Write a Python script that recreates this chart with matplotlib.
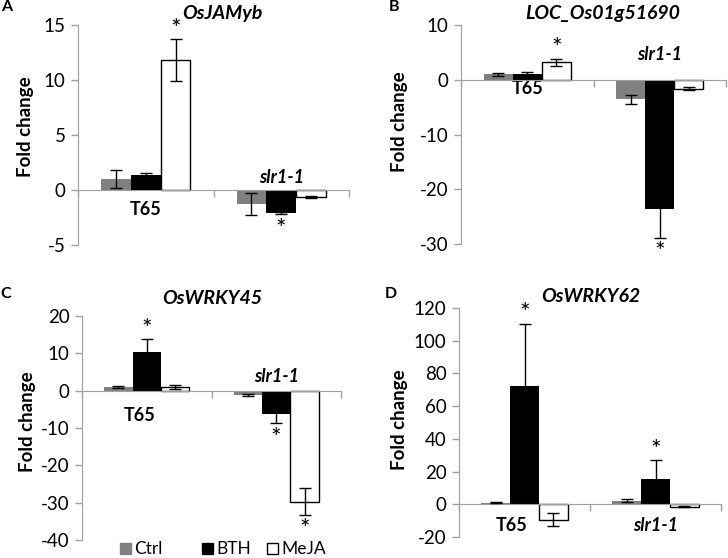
import matplotlib
matplotlib.use("Agg")
import matplotlib.pyplot as plt
from matplotlib.patches import Rectangle
import numpy as np

plt.rcParams['font.family'] = ['Lato', 'DejaVu Sans']

treatments = ["Ctrl", "BTH", "MeJA"]
genotypes = ["T65", "slr1-1"]
colors = ["#808080", "#000000", "#ffffff"]

# Panel A: OsJAMyb
a_vals = {"T65": [1.0, 1.4, 11.8], "slr1-1": [-1.3, -2.1, -0.6]}
a_err = {"T65": [0.8, 0.15, 1.9], "slr1-1": [1.0, 0.1, 0.1]}
# Panel B: LOC_Os01g51690
b_vals = {"T65": [1.0, 1.1, 3.2], "slr1-1": [-3.6, -23.6, -1.6]}
b_err = {"T65": [0.3, 0.3, 0.6], "slr1-1": [0.8, 5.3, 0.3]}
# Panel C: OsWRKY45
c_vals = {"T65": [1.0, 10.4, 1.0], "slr1-1": [-1.2, -6.3, -29.7]}
c_err = {"T65": [0.2, 3.4, 0.5], "slr1-1": [0.2, 2.4, 3.5]}
# Panel D: OsWRKY62
d_vals = {"T65": [1.0, 72.5, -9.4], "slr1-1": [2.3, 15.7, -1.5]}
d_err = {"T65": [0.5, 38.0, 3.8], "slr1-1": [1.0, 11.2, 0.3]}

# significance stars: (genotype, treatment index, side)
a_stars = [("T65", 2, "up"), ("slr1-1", 1, "down")]
b_stars = [("T65", 2, "up"), ("slr1-1", 1, "down")]
c_stars = [("T65", 1, "up"), ("slr1-1", 1, "down"), ("slr1-1", 2, "down")]
d_stars = [("T65", 1, "up"), ("slr1-1", 1, "up")]

W, H = 728, 558
fig = plt.figure(figsize=(W / 100, H / 100), dpi=100)

def rect(l, r, t, b):
    return [l / W, 1 - b / H, (r - l) / W, (b - t) / H]

panels = [
    dict(rect=rect(78, 349, 25, 245), ylim=(-5, 15), yt=[-5, 0, 5, 10, 15],
         vals=a_vals, err=a_err, stars=a_stars, title="OsJAMyb", tpos=(222, 13),
         letter="A", lpos=(7, 7), ylab=(25, 127),
         labs={"T65": ("below", 14, 0), "slr1-1": ("above", 9, 0)}),
    dict(rect=rect(461, 726, 25, 244), ylim=(-30, 10), yt=[-30, -20, -10, 0, 10],
         vals=b_vals, err=b_err, stars=b_stars, title="LOC_Os01g51690", tpos=(603, 13),
         letter="B", lpos=(394, 7), ylab=(399, 122),
         labs={"T65": ("below", 6, 0), "slr1-1": ("above", 18, 0)}),
    dict(rect=rect(82, 341, 316, 540), ylim=(-40, 20), yt=[-40, -30, -20, -10, 0, 10, 20],
         vals=c_vals, err=c_err, stars=c_stars, title="OsWRKY45", tpos=(212, 298),
         letter="C", lpos=(6, 294), ylab=(28, 422),
         labs={"T65": ("below", 18, -5), "slr1-1": ("above", 10, 0)}),
    dict(rect=rect(459, 721, 308, 537), ylim=(-20, 120), yt=[-20, 0, 20, 40, 60, 80, 100, 120],
         vals=d_vals, err=d_err, stars=d_stars, title="OsWRKY62", tpos=(591, 297),
         letter="D", lpos=(391, 294), ylab=(399, 420),
         labs={"T65": ("below", 15, -9), "slr1-1": ("below", 15, 0)}),
]

bw = 0.22
offsets = [-bw, 0, bw]
axis_gray = "#a0a0a0"

for p in panels:
    ax = fig.add_axes(p["rect"])
    for gi, g in enumerate(genotypes):
        for ti in range(3):
            x = gi + offsets[ti]
            v = p["vals"][g][ti]
            e = p["err"][g][ti]
            ax.bar(x, v, width=bw, color=colors[ti],
                   edgecolor="black" if ti == 2 else colors[ti],
                   linewidth=1.0 if ti == 2 else 0, zorder=2)
            ax.errorbar(x, v, yerr=e, fmt="none", ecolor="black", elinewidth=1.0,
                        capsize=4.5, capthick=1.0, zorder=3)
    for g, ti, side in p["stars"]:
        gi = genotypes.index(g)
        x = gi + offsets[ti]
        v = p["vals"][g][ti]
        e = p["err"][g][ti]
        if side == "up":
            ax.annotate("*", (x, v + e), xytext=(0, -1), textcoords="offset points",
                        ha="center", va="bottom", fontsize=18, zorder=4)
        else:
            ax.annotate("*", (x, v - e), xytext=(0, -19), textcoords="offset points",
                        ha="center", va="bottom", fontsize=18, zorder=4)
    for gi, g in enumerate(genotypes):
        side, off, dx = p["labs"][g]
        style = "italic" if g == "slr1-1" else "normal"
        dy = -off if side == "below" else off
        ax.annotate(g, (gi, 0), xytext=(dx, dy), textcoords="offset points",
                    ha="center", va="center", fontsize=13, fontweight="bold",
                    fontstyle=style, zorder=1)
    ax.set_xlim(-0.5, 1.5)
    ax.set_ylim(*p["ylim"])
    ax.set_yticks(p["yt"])
    ax.set_yticklabels([str(t) for t in p["yt"]])
    ax.set_xticks([-0.5, 0.5, 1.5])
    ax.set_xticklabels([])
    for s in ["top", "right"]:
        ax.spines[s].set_visible(False)
    ax.spines["bottom"].set_position(("data", 0))
    ax.spines["bottom"].set_color(axis_gray)
    ax.spines["left"].set_color(axis_gray)
    ax.spines["bottom"].set_zorder(2.5)
    ax.tick_params(axis="y", length=5, width=1, color=axis_gray, labelsize=13.5,
                   pad=4, labelcolor="black")
    ax.tick_params(axis="x", length=5, width=1, color=axis_gray, direction="out")
    ax.patch.set_alpha(0)
    fig.text(p["tpos"][0] / W, 1 - p["tpos"][1] / H, p["title"], ha="center", va="center",
             fontsize=14, fontweight="bold", fontstyle="italic")
    fig.text(p["lpos"][0] / W, 1 - p["lpos"][1] / H, p["letter"], ha="center", va="center",
             fontsize=11.5, fontweight="bold")
    fig.text(p["ylab"][0] / W, 1 - p["ylab"][1] / H, "Fold change", ha="center", va="center",
             rotation=90, fontsize=13.5, fontweight="bold")

# legend (manual, under panel C)
leg = [(120, treatments[0]), (202, treatments[1]), (267, treatments[2])]
for (px, lab), c in zip(leg, colors):
    fig.patches.append(Rectangle((px / W, 1 - 554 / H), 11 / W, 11 / H,
                                 transform=fig.transFigure, facecolor=c,
                                 edgecolor="black" if c == "#ffffff" else c, linewidth=1.0))
    fig.text((px + 14) / W, 1 - 549 / H, lab, ha="left", va="center", fontsize=12.5)

fig.savefig("out.png", dpi=100)
